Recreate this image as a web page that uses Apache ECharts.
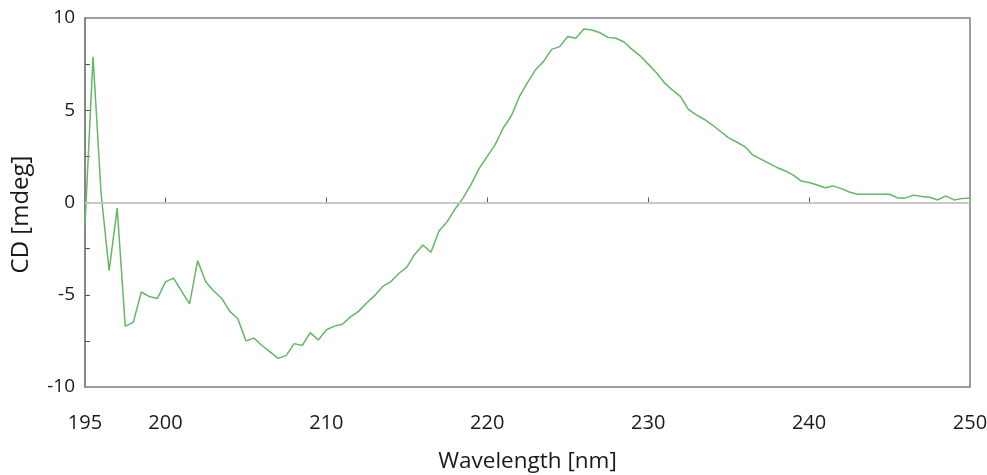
<!DOCTYPE html>
<html>
<head>
<meta charset="utf-8">
<script src="https://cdn.jsdelivr.net/npm/echarts@6/dist/echarts.min.js"></script>
<style>
  html, body { margin: 0; padding: 0; background: #fff; }
  #chart { width: 987px; height: 475px; }
</style>
</head>
<body>
<div id="chart"></div>
<script>
// wavelength in nm, 0.5 nm steps
var wavelength = [
    195, 195.5, 196, 196.5, 197, 197.5, 198, 198.5, 199, 199.5,
    200, 200.5, 201, 201.5, 202, 202.5, 203, 203.5, 204, 204.5,
    205, 205.5, 206, 206.5, 207, 207.5, 208, 208.5, 209, 209.5,
    210, 210.5, 211, 211.5, 212, 212.5, 213, 213.5, 214, 214.5,
    215, 215.5, 216, 216.5, 217, 217.5, 218, 218.5, 219, 219.5,
    220, 220.5, 221, 221.5, 222, 222.5, 223, 223.5, 224, 224.5,
    225, 225.5, 226, 226.5, 227, 227.5, 228, 228.5, 229, 229.5,
    230, 230.5, 231, 231.5, 232, 232.5, 233, 233.5, 234, 234.5,
    235, 235.5, 236, 236.5, 237, 237.5, 238, 238.5, 239, 239.5,
    240, 240.5, 241, 241.5, 242, 242.5, 243, 243.5, 244, 244.5,
    245, 245.5, 246, 246.5, 247, 247.5, 248, 248.5, 249, 249.5,
    250
];

// CD signal in mdeg
var cdValues = [
    -1.2, 7.9, 0.5, -3.7, -0.3, -6.7, -6.5, -4.85, -5.1, -5.2,
    -4.3, -4.1, -4.8, -5.5, -3.15, -4.3, -4.8, -5.2, -5.9, -6.3,
    -7.5, -7.35, -7.75, -8.1, -8.45, -8.3, -7.65, -7.75, -7.05, -7.45,
    -6.9, -6.7, -6.6, -6.2, -5.9, -5.45, -5.05, -4.55, -4.3, -3.85,
    -3.5, -2.8, -2.3, -2.7, -1.55, -1.05, -0.35, 0.25, 1.0, 1.85,
    2.5, 3.15, 4.05, 4.7, 5.75, 6.5, 7.2, 7.65, 8.3, 8.45,
    9.0, 8.9, 9.4, 9.35, 9.2, 8.95, 8.9, 8.7, 8.3, 7.95,
    7.5, 7.05, 6.5, 6.1, 5.75, 5.05, 4.75, 4.5, 4.2, 3.85,
    3.5, 3.28, 3.03, 2.58, 2.35, 2.12, 1.9, 1.72, 1.5, 1.17,
    1.08, 0.95, 0.8, 0.9, 0.75, 0.57, 0.45, 0.45, 0.45, 0.45,
    0.45, 0.25, 0.25, 0.4, 0.33, 0.28, 0.14, 0.36, 0.14, 0.21,
    0.25
];

var xLabelValues = [195, 200, 210, 220, 230, 240, 250];
var xTickValues = [200, 210, 220, 230, 240];
var yLabelValues = [-10, -5, 0, 5, 10];
var yTickValues = [-7.5, -5, -2.5, 0, 2.5, 5, 7.5];

var myChart = echarts.init(document.getElementById('chart'));

var points = wavelength.map(function (w, i) {
    return [w, cdValues[i]];
});

var font = 'Open Sans';
var frameColor = '#7f7f7f';

var option = {
    animation: false,
    grid: {
        left: 85,
        right: 17,
        top: 18,
        bottom: 88,
        outerBoundsMode: 'none',
        show: true,
        borderColor: frameColor,
        borderWidth: 1.5
    },
    xAxis: {
        type: 'value',
        min: 195,
        max: 250,
        name: 'Wavelength [nm]',
        nameLocation: 'middle',
        nameGap: 63,
        nameTextStyle: { fontFamily: font, fontSize: 22.5, color: '#1a1a1a' },
        axisLine: { lineStyle: { color: frameColor, width: 1.5 } },
        axisTick: {
            inside: true,
            length: 5,
            customValues: xTickValues,
            lineStyle: { color: '#555' }
        },
        axisLabel: {
            customValues: xLabelValues,
            margin: 26,
            fontFamily: font,
            fontSize: 20,
            color: '#1a1a1a'
        },
        splitLine: { show: false }
    },
    yAxis: {
        type: 'value',
        min: -10,
        max: 10,
        name: 'CD [mdeg]',
        nameLocation: 'middle',
        nameGap: 52,
        nameTextStyle: {
            fontFamily: font,
            fontSize: 24,
            color: '#1a1a1a',
            padding: [0, 24, 0, 0]
        },
        axisLine: { lineStyle: { color: frameColor, width: 1.5 } },
        axisTick: {
            inside: true,
            length: 5,
            customValues: yTickValues,
            lineStyle: { color: '#555' }
        },
        axisLabel: {
            customValues: yLabelValues,
            margin: 10,
            fontFamily: font,
            fontSize: 19,
            color: '#1a1a1a'
        },
        splitLine: { show: false }
    },
    series: [{
        type: 'line',
        data: points,
        showSymbol: false,
        lineStyle: { color: '#63b863', width: 1.5 },
        markLine: {
            silent: true,
            symbol: 'none',
            label: { show: false },
            lineStyle: { color: '#d6d6d6', type: 'solid', width: 1.5 },
            data: [{ yAxis: 0 }]
        }
    }]
};

myChart.setOption(option);
</script>
</body>
</html>
